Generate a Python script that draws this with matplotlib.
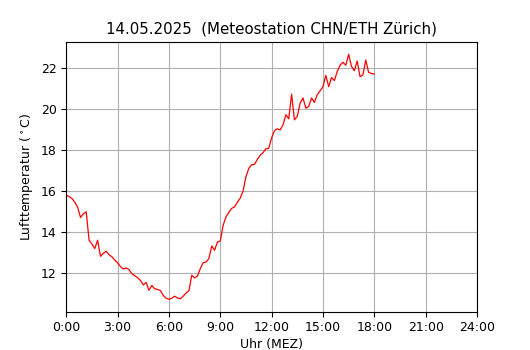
import numpy as np
import matplotlib
matplotlib.use('Agg')
import matplotlib.pyplot as plt

# Lufttemperatur alle 10 Minuten, 0:00 - 18:00
temp = [15.80, 15.72, 15.63, 15.45, 15.20, 14.70, 14.88, 14.98, 13.59, 13.40,
        13.18, 13.59, 12.80, 12.95, 13.05, 12.88, 12.78, 12.62, 12.48, 12.30,
        12.18, 12.23, 12.15, 11.95, 11.85, 11.76, 11.62, 11.40, 11.52, 11.14,
        11.38, 11.21, 11.18, 11.13, 10.89, 10.75, 10.70, 10.75, 10.85, 10.76,
        10.72, 10.85, 11.00, 11.12, 11.87, 11.75, 11.83, 12.20, 12.49, 12.52,
        12.69, 13.31, 13.10, 13.50, 13.55, 14.32, 14.73, 14.95, 15.15, 15.22,
        15.45, 15.65, 16.00, 16.70, 17.10, 17.28, 17.30, 17.55, 17.75, 17.88,
        18.06, 18.09, 18.60, 18.95, 19.04, 18.99, 19.23, 19.73, 19.53, 20.74,
        19.48, 19.65, 20.30, 20.55, 20.05, 20.13, 20.55, 20.33, 20.71, 20.90,
        21.10, 21.66, 21.10, 21.55, 21.40, 21.85, 22.15, 22.30, 22.15, 22.69,
        22.10, 21.88, 22.36, 21.59, 21.68, 22.41, 21.80, 21.75, 21.72]
stunden = np.arange(len(temp)) / 6.0  # Zeit in Stunden

xticks = [0, 3, 6, 9, 12, 15, 18, 21, 24]
xticklabels = ['%d:00' % h for h in xticks]

fig, ax = plt.subplots(figsize=(5.3, 3.5), dpi=100)
ax.plot(stunden, temp, color='red', linewidth=0.9)
ax.set_xlim(0, 24)
ax.set_xticks(xticks)
ax.set_xticklabels(xticklabels)
ax.grid(True)
ax.set_xlabel('Uhr (MEZ)', fontsize=9, labelpad=2.5)
ax.set_ylabel(r'Lufttemperatur ($^\circ$C)', fontsize=9)
ax.tick_params(labelsize=9)
ax.set_title('14.05.2025  (Meteostation CHN/ETH Zürich)', fontsize=10.8)

fig.savefig('out.png', dpi=100)
